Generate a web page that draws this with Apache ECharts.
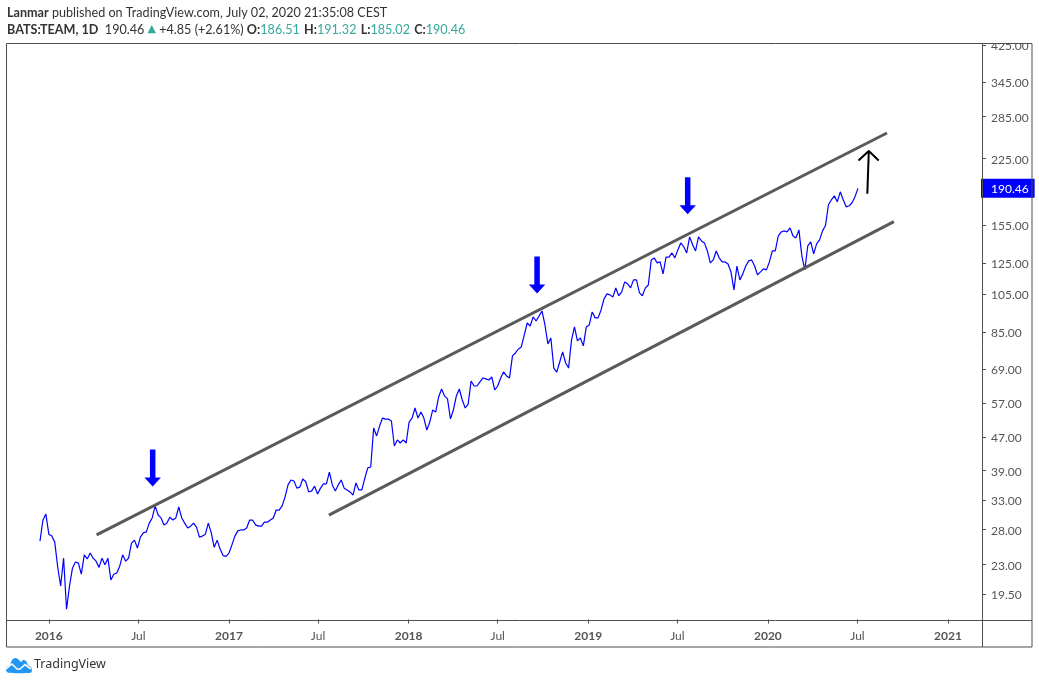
<!DOCTYPE html>
<html><head><meta charset="utf-8">
<style>html,body{margin:0;padding:0;background:#fff}#c{width:1039px;height:684px}</style>
<script src="https://cdn.jsdelivr.net/npm/echarts@6/dist/echarts.min.js"></script>
</head><body><div id="c"></div>
<script>
const DAY = 86400000;
const firstDate = '2015-12-14';
const stepDays = 6;
const closes = [
26.26,29.55,30.56,27.3,27.0,26.1,22.7,20.4,23.85,17.9,20.4,22.55,23.35,23.2,21.8,24.3,23.75,24.55,23.85,23.45,
22.65,23.85,23.0,23.85,21.1,21.8,21.95,22.8,24.3,23.45,23.85,25.95,26.4,25.25,26.85,27.5,27.65,29.05,29.9,32.0,
30.4,29.9,28.75,29.05,30.05,29.55,29.9,31.8,29.9,29.05,28.25,28.55,29.05,28.4,26.85,27.0,27.3,29.05,27.5,25.35,
26.4,25.1,24.2,24.1,24.55,25.7,27.0,27.8,27.95,27.95,28.25,29.55,29.55,28.75,28.55,28.55,29.2,29.2,29.55,29.9,
31.25,31.25,32.0,33.65,36.0,37.0,36.8,35.35,35.55,37.2,36.65,34.6,34.8,35.75,34.2,35.35,36.2,36.2,38.7,36.0,
34.8,36.0,37.0,35.35,35.0,34.6,34.0,36.4,35.0,35.0,37.4,39.6,39.8,49.56,47.4,50.1,52.4,52.1,52.1,51.55,
44.8,46.35,45.55,46.35,45.55,51.25,52.4,55.45,52.4,54.2,52.4,49.0,51.25,54.85,54.2,59.0,61.7,59.35,58.35,52.15,
54.85,59.35,61.7,58.0,55.45,56.7,64.55,62.75,62.75,64.2,65.65,65.3,64.9,66.0,61.35,62.75,65.65,67.9,66.4,65.65,
74.3,75.55,77.25,78.15,83.6,89.4,87.9,92.5,90.4,93.0,95.65,88.4,79.5,82.2,69.4,67.85,71.8,76.0,71.4,69.4,
81.3,87.5,80.85,82.2,78.6,87.45,88.45,95.1,92.0,92.0,96.2,102.4,105.3,104.7,103.5,108.8,104.2,106.5,112.6,111.4,
108.9,113.9,113.9,105.9,104.2,108.9,110.7,127.4,128.85,125.3,126.0,117.8,129.5,129.5,132.5,128.9,134.8,140.2,137.2,132.5,
145.0,138.7,134.0,145.0,141.8,140.2,134.0,125.3,127.4,134.0,128.9,126.0,126.0,124.5,119.1,107.6,123.1,113.9,117.8,123.1,
126.7,127.4,123.1,117.1,119.1,121.2,120.5,126.0,134.0,134.0,145.7,149.1,150.0,149.1,152.5,145.7,144.2,150.8,130.3,120.5,
137.8,141.0,131.8,139.4,142.6,150.0,154.6,173.7,178.6,182.6,176.6,186.8,178.6,171.7,172.7,175.7,181.8,190.46
];
const priceTicks = [425,345,285,225,155,125,105,85,69,57,47,39,33,28,23,19.5];
const lastPrice = 190.46;
const timeTicks = ['2016-01-01','2016-07-01','2017-01-01','2017-07-01','2018-01-01','2018-07-01','2019-01-01','2019-07-01','2020-01-01','2020-07-01','2021-01-01'];
const upperChannel = [['2016-04-07',27.2],['2020-08-30',260]];
const lowerChannel = [['2017-07-23',30.38],['2020-09-13',158]];
const blueArrows = [['2016-07-30',39.58],['2018-09-19',117.1],['2019-07-22',182.6]];
const blackShaft = [['2020-07-21',184.7],['2020-07-24',235]];
const blackHead = [['2020-07-03',222.7],['2020-07-24',235],['2020-08-13',222.7]];

const ts = s => Date.parse(s + 'T00:00:00Z');
const start = ts(firstDate);
const priceData = closes.map((v,i)=>[start + i*stepDays*DAY, v]);
const pts = a => a.map(p=>[ts(p[0]),p[1]]);
const monthLabel = t => { const d=new Date(t); return d.getUTCMonth()===0 ? '{y|'+d.getUTCFullYear()+'}' : '{m|Jul}'; };
const FRAME='#4f4f4f', TXT='#555555', TEAL='#37a99b', FONT='Lato', HS=12.6;
const chart = echarts.init(document.getElementById('c'),null,{renderer:'canvas'});
const yVals = priceTicks.concat([lastPrice]);
chart.setOption({
  animation:false, backgroundColor:'#fff',
  title:[
   {left:7,top:6,padding:0,text:'{b|Lanmar} published on TradingView.com, July 02, 2020 21:35:08 CEST',
    textStyle:{fontFamily:FONT,fontSize:HS,fontWeight:'normal',color:'#333',rich:{b:{fontFamily:FONT,fontSize:HS,fontWeight:'bold',color:'#333'}}}},
   {left:7,top:23,padding:0,text:'{b|BATS:TEAM, 1D}  190.46 {a|▲} +4.85 (+2.61%) {b|O:}{t|186.51} {b|H:}{t|191.32} {b|L:}{t|185.02} {b|C:}{t|190.46}',
    textStyle:{fontFamily:FONT,fontSize:HS,fontWeight:'normal',color:'#333',rich:{b:{fontFamily:FONT,fontSize:HS,fontWeight:'bold',color:'#333'},t:{fontFamily:FONT,fontSize:HS,color:TEAL,padding:[0,1,0,0]},a:{fontFamily:'DejaVu Sans',fontSize:11,color:TEAL}}}}
  ],
  grid:{left:7,right:57,top:43.5,bottom:64.5},
  xAxis:{type:'value',min:ts('2015-10-08'),max:ts('2021-03-11'),scale:true,
    axisLine:{show:false},splitLine:{show:false},
    axisTick:{show:true,length:4,lineStyle:{color:FRAME},customValues:timeTicks.map(ts)},
    axisLabel:{customValues:timeTicks.map(ts),margin:11,formatter:v=>monthLabel(v),hideOverlap:false,
      rich:{y:{fontFamily:FONT,fontSize:12,fontWeight:'bold',color:TXT},m:{fontFamily:FONT,fontSize:12,color:TXT}}}},
  yAxis:{type:'log',logBase:10,position:'right',min:16.9,max:429.8,
    axisLine:{show:false},splitLine:{show:false},minorTick:{show:false},
    axisTick:{show:true,length:4,lineStyle:{color:FRAME},customValues:priceTicks},
    axisLabel:{customValues:yVals,margin:-1,hideOverlap:false,showMinLabel:true,showMaxLabel:true,
      formatter:v=>Math.abs(v-lastPrice)<0.01?'{p|'+v.toFixed(2)+'}':'{n|'+v.toFixed(2)+'}',
      rich:{n:{fontFamily:FONT,fontSize:12,color:TXT,padding:[2,0,0,10]},
            p:{fontFamily:FONT,fontSize:12,color:'#fff',backgroundColor:'#0000ff',padding:[4,6,3,10]}}}},
  series:[
   {type:'line',name:'TEAM',data:priceData,showSymbol:false,symbol:'none',lineStyle:{color:'#0000ff',width:1.2},z:2},
   {type:'line',data:pts(upperChannel),symbol:'none',lineStyle:{color:'#5a5a5a',width:3},z:3},
   {type:'line',data:pts(lowerChannel),symbol:'none',lineStyle:{color:'#5a5a5a',width:3},z:3},
   {type:'line',data:pts(blackShaft),symbol:'none',lineStyle:{color:'#000',width:2},z:4},
   {type:'line',data:pts(blackHead),symbol:'none',lineStyle:{color:'#000',width:2},z:4},
   {type:'scatter',data:pts(blueArrows),symbol:'path://M5.5 0H11V28H16.5L8.25 37L0 28H5.5Z',symbolSize:[16.5,37],itemStyle:{color:'#0000ff',opacity:1},z:4}
  ],
  graphic:[
   {type:'rect',z:100,silent:true,shape:{x:983,y:30,width:49,height:13.5},style:{fill:'#fff'}},
   {type:'rect',z:101,silent:true,shape:{x:6.5,y:43.5,width:1025.5,height:603.5},style:{fill:'none',stroke:FRAME,lineWidth:1}},
   {type:'line',z:101,silent:true,shape:{x1:982.5,y1:43.5,x2:982.5,y2:647},style:{stroke:FRAME,lineWidth:1}},
   {type:'line',z:101,silent:true,shape:{x1:6.5,y1:620.5,x2:1032,y2:620.5},style:{stroke:FRAME,lineWidth:1}},
   {type:'polygon',z:101,silent:true,shape:{smooth:0.25,points:[[6,670],[7,667],[10,665],[12,660],[15,658],[18,659],[21,662],[23,660],[26,661],[28,665],[31,667],[32,670],[31,672.7],[8,672.7]]},style:{fill:'#2196f3'}},
   {type:'polyline',z:102,silent:true,shape:{points:[[6,669],[12,664],[17,669],[20,669],[25,664.5],[31,669]]},style:{stroke:'#fff',lineWidth:1.6,fill:'none'}},
   {type:'text',z:101,silent:true,left:34,top:658,style:{text:'TradingView',fontFamily:'Noto Sans',fontSize:12.5,fill:'#333'}}
  ]
});
</script></body></html>
